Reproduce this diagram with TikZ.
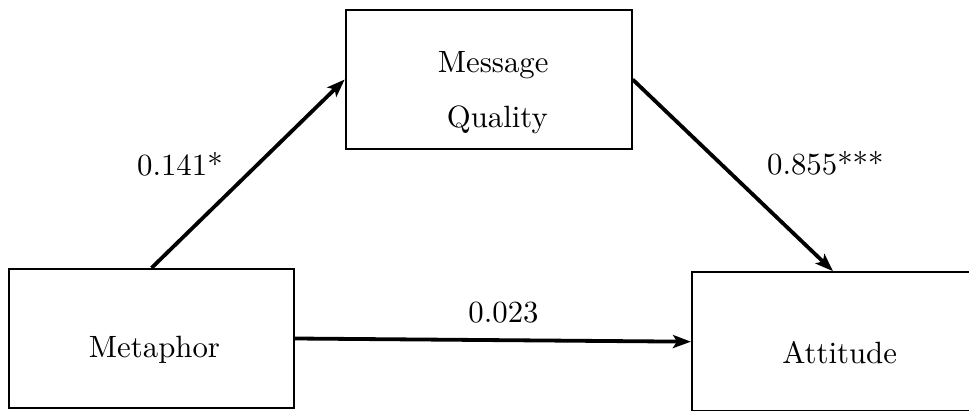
\documentclass[tikz,border=0pt]{standalone}
\usetikzlibrary{arrows.meta}
\newcommand{\bigtxt}[1]{\scalebox{1.54}{\fontsize{10}{12}\selectfont #1}}
\begin{document}
\begin{tikzpicture}[x=0.5pt,y=-0.5pt,
  box/.style={draw, line width=1pt, minimum width=#1, minimum height=69.5pt, inner sep=0pt, fill=none},
  lbl/.style={inner sep=0pt},
  conn/.style={line width=1.9pt, -{Stealth[length=9pt,width=6.5pt,inset=2pt]}}]
\useasboundingbox (0,0) rectangle (969,411);
\node[box=142.5pt] (met) at (151.5,338.5) {};
\node[box=143pt] (mq) at (488.7,79.5) {};
\node[box=141pt] (att) at (833,341.7) {};
\node[lbl, anchor=base] (tmet) at (154.5,357.5) {\bigtxt{Metaphor}};
\node[lbl, anchor=base] (tmsg) at (493.2,72.7) {\bigtxt{Message}};
\node[lbl, anchor=base] (tqual) at (497.3,127.7) {\bigtxt{Quality}};
\node[lbl, anchor=base] (tatt) at (839.7,363.3) {\bigtxt{Attitude}};
\draw[conn] (met.north) -- (mq.west);
\draw[conn] (mq.east) -- (att.north);
\draw[conn] (met.east) -- (att.west);
\node[lbl, anchor=base west] (l1) at (136.7,176) {\bigtxt{0.141*}};
\node[lbl, anchor=base west] (l2) at (766.7,175) {\bigtxt{0.855***}};
\node[lbl, anchor=base west] (l3) at (468,322) {\bigtxt{0.023}};
\end{tikzpicture}
\end{document}
